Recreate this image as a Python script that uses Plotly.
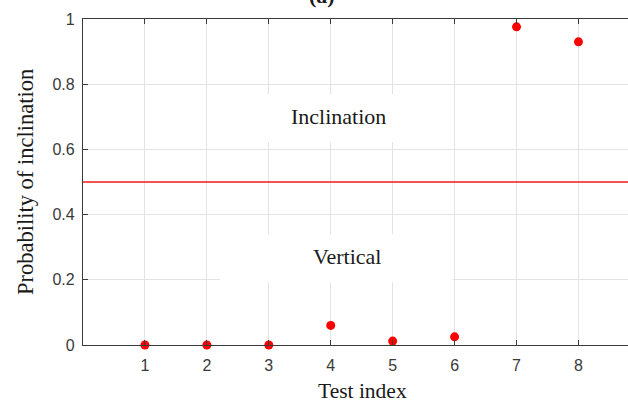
import plotly.graph_objects as go

# Test results: probability of inclination per test
test_index = [1, 2, 3, 4, 5, 6, 7, 8]
prob_inclination = [0.0, 0.0, 0.0, 0.060, 0.012, 0.025, 0.976, 0.930]

threshold = 0.5
x_ticks = [1, 2, 3, 4, 5, 6, 7, 8]
y_ticks = [0, 0.2, 0.4, 0.6, 0.8, 1]
y_tick_text = ["0", "0.2", "0.4", "0.6", "0.8", "1"]

region_labels = ["Inclination", "Vertical"]
region_label_y = [0.70, 0.27]
region_label_x = [4.13, 4.27]
region_box_y = [(0.623, 0.769), (0.192, 0.340)]
region_box_x = (2.21, 5.97)

x_range = [0, 8.8]

SERIF = "Liberation Serif, Times New Roman, serif"
SANS = "Liberation Sans, Arial, Helvetica, sans-serif"
AXIS_COLOR = "#3a3a3a"
TEXT_COLOR = "#1a1a1a"

PLOT_LEFT, PLOT_RIGHT = 83, 628


def paper_x(px):
    return (px - PLOT_LEFT) / (PLOT_RIGHT - PLOT_LEFT)


fig = go.Figure()

# Threshold line
fig.add_trace(go.Scatter(
    x=x_range, y=[threshold, threshold], mode="lines",
    line=dict(color="#f01818", width=1.4), hoverinfo="skip", showlegend=False,
    cliponaxis=False,
))

# Probability points
fig.add_trace(go.Scatter(
    x=test_index, y=prob_inclination, mode="markers",
    marker=dict(color="#ff0000", size=9, line=dict(width=0)),
    showlegend=False, cliponaxis=False,
))

# White panels behind the region labels (above the grid, below the data)
for (y0, y1) in region_box_y:
    fig.add_shape(type="rect", xref="x", yref="y",
                  x0=region_box_x[0], x1=region_box_x[1], y0=y0, y1=y1,
                  fillcolor="white", line=dict(width=0), layer="between")

for text, lx, ly in zip(region_labels, region_label_x, region_label_y):
    fig.add_annotation(x=lx, y=ly, xref="x", yref="y", text=text,
                       showarrow=False, font=dict(family=SERIF, size=22, color=TEXT_COLOR))

# Panel tag
fig.add_annotation(x=paper_x(322), y=1, xref="paper", yref="paper", text="<b>(a)</b>",
                   showarrow=False, yanchor="bottom", yshift=9,
                   font=dict(family=SERIF, size=22, color=TEXT_COLOR))

# Axis titles
fig.add_annotation(x=paper_x(362), y=-0.14, xref="paper", yref="paper",
                   text="Test index", showarrow=False, yanchor="middle",
                   font=dict(family=SERIF, size=21.5, color=TEXT_COLOR))
fig.add_annotation(x=paper_x(25), y=0.5, xref="paper", yref="paper",
                   text="Probability of inclination", showarrow=False, textangle=-90,
                   xanchor="center", yanchor="middle",
                   font=dict(family=SERIF, size=22.5, color=TEXT_COLOR))

fig.update_xaxes(
    range=x_range, tickvals=x_ticks, ticktext=[str(t) for t in x_ticks],
    showgrid=True, gridcolor="#e3e3e3", gridwidth=1,
    zeroline=False, showline=True, linecolor=AXIS_COLOR, linewidth=1.2,
    ticks="inside", ticklen=5, tickcolor=AXIS_COLOR, mirror="ticks",
    tickfont=dict(family=SANS, size=16, color="#3a3a3a"),
    ticklabelstandoff=6,
)
fig.update_yaxes(
    range=[0, 1], tickvals=y_ticks, ticktext=y_tick_text,
    showgrid=True, gridcolor="#e3e3e3", gridwidth=1,
    zeroline=False, showline=True, linecolor=AXIS_COLOR, linewidth=1.2,
    ticks="inside", ticklen=5, tickcolor=AXIS_COLOR,
    tickfont=dict(family=SANS, size=16, color="#3a3a3a"),
    ticklabelstandoff=4,
)

fig.update_layout(
    width=628, height=403,
    margin=dict(l=PLOT_LEFT, r=0, t=19, b=58),
    plot_bgcolor="white", paper_bgcolor="white",
    showlegend=False,
)

fig.write_html("out.html")
